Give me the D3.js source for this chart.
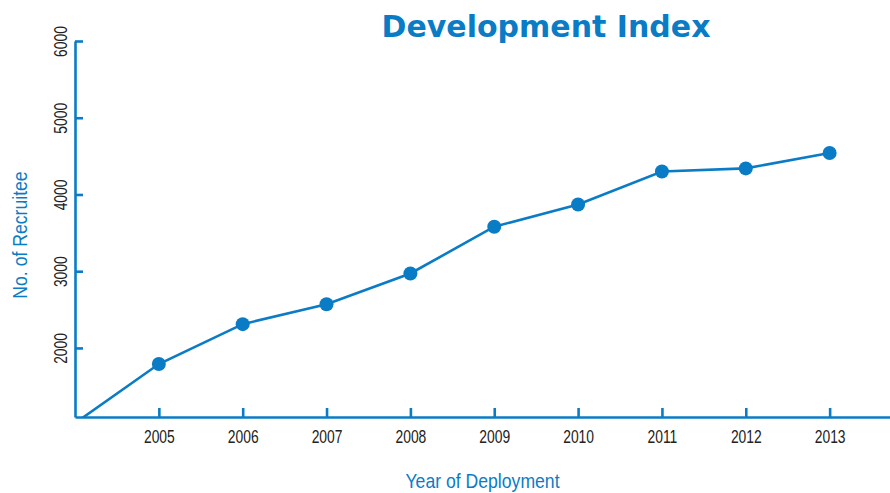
<!DOCTYPE html>
<html>
<head>
<meta charset="utf-8">
<script src="https://cdn.jsdelivr.net/npm/d3@7"></script>
<style>
  body { margin: 0; background: #fff; }
</style>
</head>
<body>
<div id="chart"></div>
<script>
// values
const years = [2004, 2005, 2006, 2007, 2008, 2009, 2010, 2011, 2012, 2013];
const recruits = [1020, 1790, 2310, 2570, 2970, 3580, 3870, 4300, 4340, 4540];
const xTicks = [2005, 2006, 2007, 2008, 2009, 2010, 2011, 2012, 2013];
const yTicks = [2000, 3000, 4000, 5000, 6000];

const title = "Development Index";
const xTitle = "Year of Deployment";
const yTitle = "No. of Recruitee";

const width = 890;
const height = 493;
const marginTop = 41;
const marginRight = 0;
const marginBottom = 76;
const marginLeft = 75;

const blue = "#0a7cc6";
// no narrow font installed, so squeeze Liberation Sans horizontally
const sans = "'Liberation Sans', Arial, sans-serif";
const tickSqueeze = 0.77;
const titleSqueeze = 0.86;

const data = years.map((y, i) => ({ year: y, value: recruits[i] }));

const x = d3.scaleLinear()
    .domain([2004, 2013.72])
    .range([marginLeft, width - marginRight]);

const y = d3.scaleLinear()
    .domain([1100, 6000])
    .range([height - marginBottom, marginTop]);

const svg = d3.select("#chart").append("svg")
    .attr("width", width)
    .attr("height", height)
    .attr("viewBox", [0, 0, width, height]);

svg.append("defs").append("clipPath")
    .attr("id", "plot")
    .append("rect")
    .attr("x", marginLeft)
    .attr("y", 0)
    .attr("width", width - marginLeft)
    .attr("height", height - marginBottom);

// title
svg.append("text")
    .attr("x", 546)
    .attr("y", 37)
    .attr("text-anchor", "middle")
    .attr("fill", blue)
    .attr("font-family", "'DejaVu Sans', sans-serif")
    .attr("font-weight", "bold")
    .attr("font-size", 30)
    .text(title);

// x axis
svg.append("g")
    .attr("transform", `translate(0,${height - marginBottom})`)
    .call(d3.axisBottom(x).tickValues(xTicks).tickFormat(d3.format("d"))
        .tickSize(-9).tickSizeOuter(0).tickPadding(13))
    .call(g => g.selectAll("path, line").attr("stroke", blue).attr("stroke-width", 2.6))
    .call(g => g.selectAll("text")
        .attr("transform", `scale(${tickSqueeze},1)`)
        .attr("fill", "#222")
        .attr("font-family", sans)
        .attr("font-size", 18));

// y axis
svg.append("g")
    .attr("transform", `translate(${marginLeft},0)`)
    .call(d3.axisLeft(y).tickValues(yTicks).tickFormat(d3.format("d"))
        .tickSize(-8).tickSizeOuter(0))
    .call(g => g.selectAll("path, line").attr("stroke", blue).attr("stroke-width", 2.6))
    .call(g => g.selectAll("text")
        .attr("x", null)
        .attr("dy", null)
        .attr("transform", `translate(-8,0) rotate(-90) scale(${tickSqueeze},1)`)
        .attr("text-anchor", "middle")
        .attr("fill", "#222")
        .attr("font-family", sans)
        .attr("font-size", 18));

// axis titles
svg.append("text")
    .attr("transform", `translate(${(marginLeft + width) / 2},488) scale(${titleSqueeze},1)`)
    .attr("text-anchor", "middle")
    .attr("fill", blue)
    .attr("font-family", sans)
    .attr("font-size", 20.5)
    .text(xTitle);

svg.append("text")
    .attr("transform", `translate(27,235) rotate(-90) scale(${titleSqueeze},1)`)
    .attr("text-anchor", "middle")
    .attr("fill", blue)
    .attr("font-family", sans)
    .attr("font-size", 20.5)
    .text(yTitle);

// line and points
const line = d3.line()
    .x(d => x(d.year))
    .y(d => y(d.value));

const plot = svg.append("g").attr("clip-path", "url(#plot)");

plot.append("path")
    .datum(data)
    .attr("fill", "none")
    .attr("stroke", blue)
    .attr("stroke-width", 2.6)
    .attr("d", line);

plot.selectAll("circle")
    .data(data.filter(d => d.value >= y.domain()[0]))
    .join("circle")
    .attr("cx", d => x(d.year))
    .attr("cy", d => y(d.value))
    .attr("r", 7)
    .attr("fill", blue);
</script>
</body>
</html>
